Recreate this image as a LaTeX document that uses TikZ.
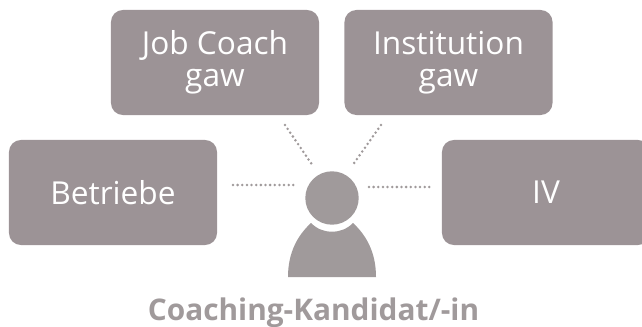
\documentclass[tikz,border=0pt]{standalone}
\usepackage{fontspec}
\setmainfont{Open Sans}
\definecolor{boxgray}{HTML}{9C9396}
\definecolor{persongray}{HTML}{A09A9B}

\begin{document}
\begin{tikzpicture}[x=0.025cm,y=-0.025cm]

    \useasboundingbox (0,0) rectangle (642,327);
    \clip (0,0) rectangle (642,327);

        \begin{scope}[every node/.style={fill=boxgray,text=white,rounded corners=8.5pt,minimum width=5.2cm,minimum height=2.625cm,align=center,font=\fontsize{22.5}{23}\selectfont,inner sep=0pt}]
            \node (jobcoach) at (215,62.5) {Job Coach\\gaw};
            \node (institution) at (448.5,62.5) {Institution\\gaw};
            \node (betriebe) at (113,192.5) {Betriebe};
            \node (iv) at (546,192.5) {IV};
        \end{scope}

        \node[circle,fill=persongray,minimum size=1.335cm,inner sep=0pt] (head) at (332,198) {};
        \fill[persongray] (288,277) .. controls (288,252) and (298,235) .. (311,223)
            .. controls (317,229) and (324,231.7) .. (332,231.7)
            .. controls (340,231.7) and (347,229) .. (353,223)
            .. controls (366,235) and (376,252) .. (376,277) -- cycle;

        \node[text=persongray,font=\fontsize{21.2}{22}\selectfont\bfseries] (kandidat) at (313.5,313) {Coaching-Kandidat/-in};

        \coordinate (a1) at (285,125);
        \coordinate (a2) at (313,166);
        \coordinate (b1) at (381,125);
        \coordinate (b2) at (352,166);
        \coordinate (c1) at (233,185);
        \coordinate (c2) at (296,185);
        \coordinate (d1) at (369,187);
        \coordinate (d2) at (432,187);

        \begin{scope}[every path/.style={draw=persongray,line width=2pt,line cap=round,dash pattern=on 0pt off 3.3pt}]
            \path (a1) -- (a2);
            \path (b1) -- (b2);
            \path (c1) -- (c2);
            \path (d1) -- (d2);
        \end{scope}

    \end{tikzpicture}
\end{document}
